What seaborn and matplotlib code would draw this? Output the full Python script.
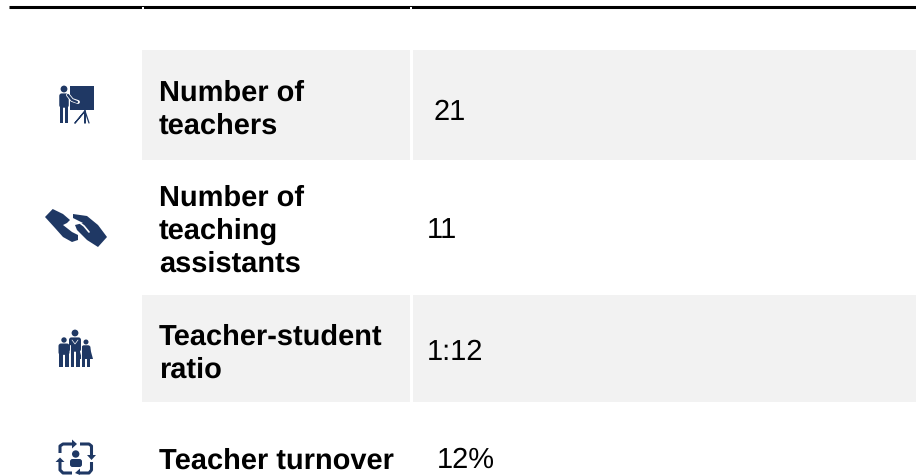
import pandas as pd
import seaborn as sns
import matplotlib.pyplot as plt
from matplotlib.patches import Circle, Polygon, Rectangle, FancyBboxPatch

labels = ['Number of\nteachers', 'Number of\nteaching\nassistants', 'Teacher-student\nratio', 'Teacher turnover']
values = ['21', '11', '1:12', '12%']

NAVY = '#1f3864'
GREY = '#f2f2f2'

sns.set_theme(style='white')
plt.rcParams['font.family'] = ['Liberation Sans', 'DejaVu Sans']
plt.rcParams['text.hinting'] = 'no_hinting'
plt.rcParams['text.hinting_factor'] = 1

fig = plt.figure(figsize=(9.16, 4.75), dpi=100)
ax = fig.add_axes([0, 0, 1, 1])

# filas sombreadas
for y0, y1 in [(50, 160), (295, 402)]:
    ax.add_patch(Rectangle((142, y0), 268, y1 - y0, color=GREY, lw=0))
    ax.add_patch(Rectangle((413, y0), 503, y1 - y0, color=GREY, lw=0))

# linea superior
rule = pd.DataFrame({'x': [9, 916], 'y': [6.5, 6.5]})
sns.lineplot(x='x', y='y', data=rule, color='black', lw=2.2, ax=ax, solid_capstyle='butt')
ax.add_patch(Rectangle((141.5, 7), 2, 1.6, color='white', lw=0, zorder=5))
ax.add_patch(Rectangle((410, 7), 2, 1.6, color='white', lw=0, zorder=5))

# textos
label_y = [109.5, 231.5, 354, 461]
value_pos = [(434, 112), (427, 231), (427, 352), (437, 460)]
for lab, val, ly, (vx, vy) in zip(labels, values, label_y, value_pos):
    ax.text(159, ly, lab, fontsize=21.2, fontweight='bold', color='black',
            va='center', ha='left', linespacing=1.29)
    ax.text(vx, vy, val, fontsize=21.0, color='black', va='center', ha='left')


def person(cx, head_y, h, w, color=NAVY):
    ax.add_patch(Circle((cx, head_y), h * 0.1, color=color, lw=0))
    top = head_y + h * 0.13
    ax.add_patch(FancyBboxPatch((cx - w / 2, top), w, h * 0.42, boxstyle='round,pad=0,rounding_size=2.5', color=color, lw=0))
    leg = w * 0.32
    ax.add_patch(Rectangle((cx - w * 0.42, top + h * 0.35), leg, h * 0.52, color=color, lw=0))
    ax.add_patch(Rectangle((cx + w * 0.42 - leg, top + h * 0.35), leg, h * 0.52, color=color, lw=0))


# icono profesor
ax.add_patch(Rectangle((70, 86), 24, 24, color=NAVY, lw=0))
ax.plot([85, 75, 85, 85, 85, 89], [111, 123, 111, 123, 111, 123], color=NAVY, lw=0.9)
person(64, 89, 34, 9.5)
ax.plot([68, 72, 78], [95, 100, 102], color='white', lw=2.8, solid_capstyle='round')
ax.plot([68, 72, 77], [95, 100, 102], color=NAVY, lw=1.6, solid_capstyle='round')

# icono manos
ax.add_patch(Polygon([(45, 217), (52.7, 209), (63, 214), (70, 220), (67, 223), (63, 225), (72, 232), (78, 235), (78, 240), (72, 242), (63, 237), (55, 228)],
                     closed=True, color=NAVY, lw=0))
ax.add_patch(Polygon([(73, 214), (87, 216), (98, 225), (107, 237), (98, 247), (87, 240), (77, 230), (75, 225), (83, 223), (73, 218)],
                     closed=True, color=NAVY, lw=0))
ax.plot([80, 84, 89], [223, 226, 232], color='white', lw=1.2)

# icono familia
person(64, 340, 27, 11)
person(75, 333, 34, 12)
person(86, 342, 25, 9)
ax.add_patch(Polygon([(82, 348), (90, 348), (93, 359), (79, 359)], closed=True, color=NAVY, lw=0))
ax.plot([69.6, 69.6], [345, 367], color='white', lw=0.7)
ax.plot([80.6, 80.6], [345, 367], color='white', lw=0.7)
ax.plot([72, 75, 78], [340, 344, 340], color='white', lw=0.5)

# icono rotacion
ax.add_patch(Circle((75.7, 454), 3.7, color=NAVY, lw=0))
ax.add_patch(FancyBboxPatch((70, 459), 12, 8, boxstyle='round,pad=0,rounding_size=2.5', color=NAVY, lw=0))
for xs, ys in [([60, 60, 63, 72], [453, 446, 444, 444]),
               ([80, 89, 91.5, 91.5], [444, 444, 446, 455]),
               ([91.5, 91.5, 89, 80], [462, 470, 473, 473]),
               ([72, 63, 60, 60], [473, 473, 470, 462])]:
    ax.plot(xs, ys, color=NAVY, lw=2.2, solid_capstyle='butt')
for pts in [[(72, 439.5), (77, 444), (72, 448.5)], [(87, 455), (91.5, 460), (96, 455)],
            [(80, 468.5), (75, 473), (80, 475)], [(55.5, 462), (60, 457.5), (64.5, 462)]]:
    ax.add_patch(Polygon(pts, closed=True, color=NAVY, lw=0))

ax.set_xlim(0, 916)
ax.set_ylim(475, 0)
ax.set_xlabel('')
ax.set_ylabel('')
ax.set_xticks([])
ax.set_yticks([])
sns.despine(ax=ax, left=True, bottom=True)

plt.savefig('out.png', dpi=100)
